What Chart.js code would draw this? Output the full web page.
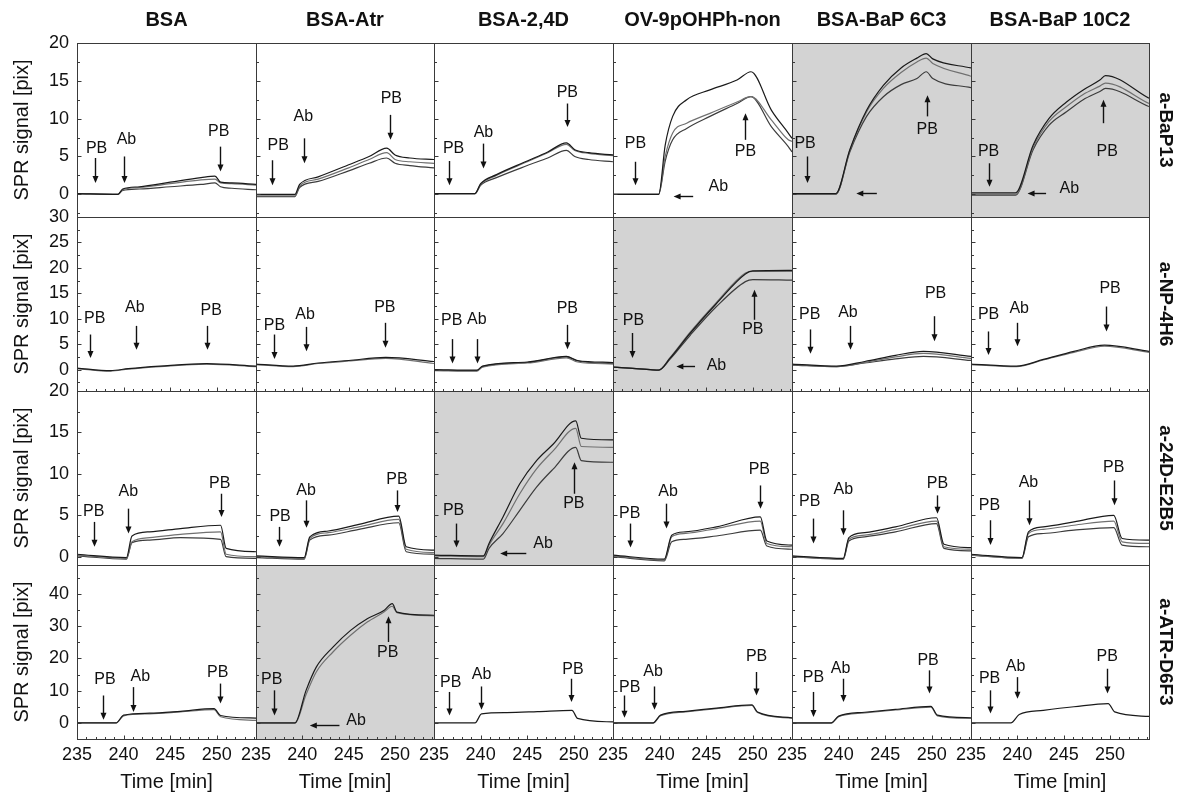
<!DOCTYPE html>
<html>
<head>
<meta charset="utf-8">
<title>SPR panels</title>
<script src="https://cdn.jsdelivr.net/npm/chart.js@4.4.1/dist/chart.umd.min.js"></script>
<style>
body { margin: 0; background: #fff; }
#fig { position: relative; width: 1185px; height: 793px; overflow: hidden; font-family: "Liberation Sans", Arial, sans-serif; color: #111; }
#fig canvas { position: absolute; }
.colTit { position: absolute; top: 7px; width: 180px; margin-left: -90px; text-align: center; font-weight: bold; font-size: 20px; line-height: 24px; white-space: nowrap; }
.rowTit { position: absolute; font-weight: bold; font-size: 19px; line-height: 20px; white-space: nowrap; transform: translate(-50%, -50%) rotate(90deg); }
</style>
</head>
<body>
<div id="fig"></div>
<script>
// titulos
var columnas = ['BSA', 'BSA-Atr', 'BSA-2,4D', 'OV-9pOHPh-non', 'BSA-BaP 6C3', 'BSA-BaP 10C2'];
var filas = ['a-BaP13', 'a-NP-4H6', 'a-24D-E2B5', 'a-ATR-D6F3'];

// ejes
var timeTicks = [235, 240, 245, 250];
var timeRange = [235, 254.2];
var yTicks = [[0, 5, 10, 15, 20], [0, 5, 10, 15, 20, 25, 30], [0, 5, 10, 15, 20], [0, 10, 20, 30, 40]];
var yRange = [[-3, 20], [-4.2, 30], [-1, 20], [-5, 49]];
var shaded = [[0, 0, 0, 0, 1, 1], [0, 0, 0, 1, 0, 0], [0, 0, 1, 0, 0, 0], [0, 1, 0, 0, 0, 0]];

// fila 1: a-BaP13
var t_r1c1 = [235, 239.4, 239.9, 241.7, 245.0, 248.3, 249.8, 250.4, 251.6, 254.2];
var y_r1c1 = [[0.1, 0.0, 0.7, 1.0, 1.6, 2.2, 2.4, 1.6, 1.5, 1.3],
              [0.1, 0.0, 0.6, 0.9, 1.4, 1.9, 2.0, 1.5, 1.4, 1.2],
              [0.1, 0.0, 0.5, 0.7, 1.0, 1.3, 1.5, 1.0, 0.8, 0.6]];
var t_r1c2 = [235, 239.2, 239.7, 241.7, 245.0, 247.2, 249.1, 250.0, 251.6, 254.2];
var y_r1c2 = [[0.0, 0.0, 1.3, 2.3, 3.9, 5.0, 6.1, 5.2, 4.8, 4.6],
              [-0.2, -0.2, 1.1, 2.0, 3.5, 4.6, 5.5, 4.6, 4.3, 4.1],
              [-0.3, -0.3, 0.9, 1.7, 3.1, 4.1, 4.8, 4.1, 3.8, 3.5]];
var t_r1c3 = [235, 239.4, 240.0, 241.7, 245.0, 247.2, 249.2, 250.1, 251.6, 254.2];
var y_r1c3 = [[0.1, 0.1, 1.4, 2.6, 4.4, 5.6, 6.8, 5.9, 5.5, 5.2],
              [0.1, 0.1, 1.3, 2.5, 4.3, 5.5, 6.6, 5.8, 5.4, 5.1],
              [0.1, 0.1, 1.2, 2.2, 3.8, 4.8, 5.8, 5.0, 4.6, 4.3]];
var t_r1c4 = [235, 239.9, 240.6, 241.4, 242.9, 245.4, 248.3, 249.8, 252.0, 253.8, 254.2];
var y_r1c4 = [[0.0, 0.0, 6.5, 10.3, 12.5, 13.8, 15.1, 16.2, 11.1, 8.1, 7.4],
              [0.0, 0.0, 5.0, 8.1, 9.4, 10.7, 12.2, 12.9, 9.8, 7.2, 7.0],
              [0.0, 0.0, 4.4, 7.2, 8.7, 10.3, 12.0, 12.9, 8.9, 6.3, 5.6]];
var t_r1c5 = [235, 239.7, 241.2, 243.0, 244.8, 246.7, 248.4, 249.4, 250.1, 254.2];
var y_r1c5 = [[0.1, 0.1, 5.9, 11.1, 14.4, 16.7, 18.0, 18.6, 17.9, 16.7],
              [0.0, 0.0, 5.8, 10.9, 14.0, 16.1, 17.5, 18.0, 17.3, 15.6],
              [0.0, 0.0, 5.6, 10.3, 12.9, 14.5, 15.3, 16.2, 15.3, 14.1]];
var t_r1c6 = [235, 239.8, 241.7, 243.4, 245.3, 247.1, 248.9, 249.5, 254.2];
var y_r1c6 = [[0.2, 0.2, 6.5, 10.0, 12.2, 13.8, 15.1, 15.7, 12.7],
              [0.0, 0.0, 6.2, 9.6, 11.6, 13.2, 14.3, 14.7, 12.0],
              [-0.1, -0.1, 5.9, 9.1, 10.9, 12.5, 13.6, 14.0, 11.6]];

// fila 2: a-NP-4H6
var t_r2c1 = [235, 238.6, 240.5, 243.9, 248.9, 254.2];
var y_r2c1 = [[0.3, -0.2, 0.2, 0.7, 1.2, 0.7],
              [0.2, -0.3, 0.1, 0.6, 1.1, 0.6]];
var t_r2c2 = [235, 239.0, 241.7, 245.0, 249.0, 254.2];
var y_r2c2 = [[1.1, 0.7, 1.3, 1.8, 2.4, 1.6],
              [1.0, 0.6, 1.2, 1.7, 2.2, 1.2]];
var t_r2c3 = [235, 239.6, 240.2, 245.0, 249.2, 250.4, 254.2];
var y_r2c3 = [[0.0, -0.1, 0.7, 1.5, 2.6, 1.8, 1.4],
              [-0.2, -0.3, 0.5, 1.3, 2.3, 1.5, 1.1],
              [-0.1, -0.2, 0.6, 1.4, 2.5, 1.7, 1.2]];
var t_r2c4 = [235, 239.0, 239.9, 241.1, 243.3, 246.1, 249.2, 250.0, 254.2];
var y_r2c4 = [[0.5, 0.0, -0.1, 2.2, 7.2, 13.0, 18.8, 19.4, 19.5],
              [0.5, 0.0, -0.1, 2.3, 7.4, 13.2, 19.0, 19.3, 19.3],
              [0.5, 0.0, -0.1, 2.0, 6.8, 12.4, 17.3, 17.7, 17.6]];
var t_r2c5 = [235, 239.8, 242.8, 246.1, 249.1, 254.2];
var y_r2c5 = [[1.1, 0.7, 1.6, 2.8, 3.6, 2.6],
              [1.0, 0.6, 1.4, 2.5, 3.2, 2.2],
              [0.9, 0.6, 1.3, 2.1, 2.6, 1.8]];
var t_r2c6 = [235, 239.9, 242.8, 246.1, 249.4, 254.2];
var y_r2c6 = [[1.1, 0.7, 2.0, 3.6, 4.8, 3.6],
              [1.0, 0.6, 1.9, 3.4, 4.6, 3.4]];

// fila 3: a-24D-E2B5
var t_r3c1 = [235, 240.3, 240.9, 242.8, 246.1, 250.4, 251.0, 254.2];
var y_r3c1 = [[0.3, -0.1, 2.5, 3.0, 3.4, 3.8, 1.0, 0.6],
              [0.2, -0.2, 1.8, 2.3, 2.7, 3.0, 0.3, 0.0],
              [0.1, -0.3, 1.7, 2.0, 2.3, 2.1, 0.0, -0.2]];
var t_r3c2 = [235, 240.2, 240.8, 242.8, 246.1, 250.4, 251.2, 254.2];
var y_r3c2 = [[0.1, -0.1, 2.4, 3.1, 3.9, 4.9, 1.2, 0.8],
              [0.0, -0.2, 2.2, 2.9, 3.6, 4.5, 0.9, 0.5],
              [-0.1, -0.3, 2.0, 2.6, 3.3, 4.1, 0.6, 0.3]];
var t_r3c3 = [235, 240.3, 240.9, 242.4, 244.2, 246.0, 247.8, 250.2, 250.8, 254.2];
var y_r3c3 = [[0.2, 0.1, 1.6, 4.8, 8.8, 11.6, 13.6, 16.4, 14.3, 14.1],
              [0.1, 0.0, 1.4, 4.0, 7.6, 10.6, 12.8, 15.5, 13.3, 13.2],
              [-0.2, -0.3, 1.0, 2.8, 5.6, 8.4, 10.6, 13.2, 11.6, 11.4]];
var t_r3c4 = [235, 240.5, 241.3, 242.8, 246.1, 250.8, 251.5, 254.2];
var y_r3c4 = [[0.2, -0.3, 2.6, 3.0, 3.6, 4.8, 1.9, 1.4],
              [0.1, -0.4, 2.4, 2.8, 3.4, 4.3, 1.6, 1.2],
              [0.0, -0.5, 1.8, 2.1, 2.5, 3.2, 1.3, 0.9]];
var t_r3c5 = [235, 240.5, 241.1, 242.8, 246.1, 250.5, 251.3, 254.2];
var y_r3c5 = [[0.1, -0.2, 2.3, 2.9, 3.6, 4.7, 1.5, 1.1],
              [0.0, -0.3, 2.1, 2.6, 3.3, 4.3, 1.2, 0.9],
              [0.0, -0.3, 1.9, 2.4, 3.0, 4.0, 1.0, 0.7]];
var t_r3c6 = [235, 240.5, 241.2, 242.8, 246.1, 250.4, 251.3, 254.2];
var y_r3c6 = [[0.3, -0.1, 3.0, 3.6, 4.2, 5.0, 2.2, 2.0],
              [0.2, -0.2, 2.8, 3.3, 3.8, 4.3, 1.8, 1.6],
              [0.2, -0.2, 2.4, 2.8, 3.2, 3.5, 1.4, 1.2]];

// fila 4: a-ATR-D6F3
var t_r4c1 = [235, 239.2, 240.0, 242.8, 246.1, 249.7, 250.4, 254.2];
var y_r4c1 = [[0.0, 0.0, 2.4, 3.0, 3.6, 4.4, 2.3, 1.5],
              [0.0, 0.0, 2.2, 2.8, 3.4, 4.1, 1.9, 0.8]];
var t_r4c2 = [235, 239.2, 240.4, 241.5, 243.3, 245.2, 247.0, 248.8, 249.7, 250.2, 254.2];
var y_r4c2 = [[0.0, 0.0, 10.1, 17.3, 23.5, 28.7, 32.3, 34.9, 37.0, 34.4, 33.4],
              [-0.1, -0.1, 8.8, 15.8, 22.0, 27.2, 31.3, 34.4, 36.2, 34.2, 33.2]];
var t_r4c3 = [235, 239.4, 240.1, 242.8, 246.1, 249.8, 250.4, 254.2];
var y_r4c3 = [[0.0, 0.0, 2.8, 3.2, 3.5, 3.9, 1.4, 0.3]];
var t_r4c4 = [235, 239.3, 240.1, 242.8, 246.1, 249.9, 250.5, 254.2];
var y_r4c4 = [[0.0, 0.0, 2.4, 3.6, 4.6, 5.6, 3.4, 1.6],
              [-0.1, -0.1, 2.2, 3.4, 4.4, 5.4, 3.2, 1.4]];
var t_r4c5 = [235, 239.2, 240.0, 242.8, 246.1, 249.9, 250.6, 254.2];
var y_r4c5 = [[0.0, 0.0, 2.1, 3.3, 4.2, 5.1, 2.4, 1.6],
              [-0.1, -0.1, 1.9, 3.1, 4.0, 4.9, 2.2, 1.4]];
var t_r4c6 = [235, 239.3, 240.2, 242.8, 246.1, 249.8, 250.5, 254.2];
var y_r4c6 = [[0.0, 0.0, 2.6, 3.9, 5.0, 6.0, 3.4, 2.0]];

// marcas PB / Ab: ['v', texto, xTexto, yTexto, xFlecha, yDesde, yHasta] o ['h', texto, xTexto, yTexto, yFlecha, xDesde, xHasta]
var n_r1c1 = [['v', 'PB', 237.1, 6.1, 236.9, 4.8, 1.5], ['v', 'Ab', 240.3, 7.2, 240.0, 5.0, 1.5], ['v', 'PB', 250.2, 8.3, 250.3, 6.3, 3.0]];
var n_r1c2 = [['v', 'PB', 237.4, 6.5, 236.7, 4.5, 1.2], ['v', 'Ab', 240.1, 10.3, 240.2, 7.4, 4.1], ['v', 'PB', 249.6, 12.7, 249.4, 10.5, 7.2]];
var n_r1c3 = [['v', 'PB', 237.1, 6.1, 236.6, 4.4, 1.2], ['v', 'Ab', 240.3, 8.1, 240.3, 6.7, 3.4], ['v', 'PB', 249.3, 13.4, 249.3, 12.0, 8.9]];
var n_r1c4 = [['v', 'PB', 237.4, 6.7, 237.4, 4.3, 1.2], ['h', 'Ab', 246.3, 1.0, -0.2, 243.6, 241.5], ['v', 'PB', 249.2, 5.6, 249.2, 7.2, 10.7]];
var n_r1c5 = [['v', 'PB', 236.4, 6.7, 236.6, 5.0, 1.5], ['h', '', 0, 0, 0.2, 244.1, 241.9], ['v', 'PB', 249.5, 8.5, 249.5, 10.3, 13.1]];
var n_r1c6 = [['v', 'PB', 236.9, 5.6, 236.9, 4.1, 1.0], ['h', 'Ab', 245.6, 0.8, 0.2, 243.1, 241.1], ['v', 'PB', 249.7, 5.6, 249.2, 9.4, 12.5]];
var n_r2c1 = [['v', 'PB', 236.9, 10.0, 236.4, 6.9, 2.3], ['v', 'Ab', 241.2, 12.1, 241.3, 8.6, 3.9], ['v', 'PB', 249.4, 11.6, 248.9, 8.6, 3.9]];
var n_r2c2 = [['v', 'PB', 237.0, 8.6, 236.9, 6.9, 2.1], ['v', 'Ab', 240.3, 10.9, 240.4, 8.4, 3.6], ['v', 'PB', 248.9, 12.1, 248.9, 9.2, 4.3]];
var n_r2c3 = [['v', 'PB', 236.9, 9.6, 236.9, 6.0, 1.2], ['v', 'Ab', 239.6, 9.8, 239.6, 6.0, 1.2], ['v', 'PB', 249.3, 12.0, 249.3, 8.8, 4.0]];
var n_r2c4 = [['v', 'PB', 237.2, 9.7, 237.0, 7.2, 2.3], ['h', 'Ab', 246.1, 0.85, 0.8, 243.8, 241.8], ['v', 'PB', 250.0, 7.9, 250.1, 9.8, 15.7]];
var n_r2c5 = [['v', 'PB', 236.9, 10.8, 236.9, 7.9, 3.1], ['v', 'Ab', 241.0, 11.3, 241.2, 8.6, 3.9], ['v', 'PB', 250.4, 14.9, 250.2, 10.5, 5.6]];
var n_r2c6 = [['v', 'PB', 236.9, 10.8, 236.8, 7.5, 2.9], ['v', 'Ab', 240.2, 11.9, 240.0, 9.2, 4.6], ['v', 'PB', 250.0, 16.0, 249.6, 12.4, 7.5]];
var n_r3c1 = [['v', 'PB', 236.8, 5.4, 236.8, 4.2, 1.2], ['v', 'Ab', 240.5, 7.8, 240.5, 5.8, 2.8], ['v', 'PB', 250.3, 8.8, 250.4, 7.6, 4.8]];
var n_r3c2 = [['v', 'PB', 237.6, 4.8, 237.5, 3.6, 1.2], ['v', 'Ab', 240.4, 8.0, 240.4, 6.8, 3.5], ['v', 'PB', 250.2, 9.3, 250.2, 8.0, 5.4]];
var n_r3c3 = [['v', 'PB', 237.1, 5.6, 237.4, 4.0, 1.1], ['h', 'Ab', 246.7, 1.6, 0.4, 244.9, 242.1], ['v', 'PB', 250.0, 6.4, 250.0, 7.6, 11.4]];
var n_r3c4 = [['v', 'PB', 236.8, 5.2, 236.8, 4.0, 1.1], ['v', 'Ab', 240.9, 7.9, 240.7, 6.4, 3.4], ['v', 'PB', 250.7, 10.5, 250.8, 8.6, 5.8]];
var n_r3c5 = [['v', 'PB', 236.9, 6.6, 237.3, 4.6, 1.6], ['v', 'Ab', 240.5, 8.1, 240.5, 5.6, 2.6], ['v', 'PB', 250.6, 8.8, 250.6, 7.4, 5.2]];
var n_r3c6 = [['v', 'PB', 237.0, 6.2, 237.0, 4.4, 1.4], ['v', 'Ab', 241.2, 9.0, 241.3, 6.8, 3.8], ['v', 'PB', 250.4, 10.8, 250.4, 9.2, 6.2]];
var n_r4c1 = [['v', 'PB', 238.0, 13.4, 237.8, 8.5, 1.0], ['v', 'Ab', 241.8, 14.4, 241.0, 11.1, 3.4], ['v', 'PB', 250.1, 15.5, 250.3, 12.2, 6.0]];
var n_r4c2 = [['v', 'PB', 236.7, 13.4, 236.9, 10.1, 2.3], ['h', 'Ab', 245.8, 0.8, -0.5, 244.0, 240.8], ['v', 'PB', 249.2, 21.7, 249.2, 25.1, 33.1]];
var n_r4c3 = [['v', 'PB', 236.8, 12.4, 236.6, 9.6, 2.3], ['v', 'Ab', 240.1, 15.0, 240.0, 11.3, 4.1], ['v', 'PB', 249.9, 16.5, 249.7, 13.7, 6.5]];
var n_r4c4 = [['v', 'PB', 236.8, 10.9, 236.2, 8.5, 1.6], ['v', 'Ab', 239.3, 15.8, 239.4, 11.3, 4.1], ['v', 'PB', 250.4, 20.7, 250.3, 15.8, 8.5]];
var n_r4c5 = [['v', 'PB', 237.3, 14.2, 237.2, 9.6, 1.8], ['v', 'Ab', 240.2, 16.8, 240.5, 13.7, 6.5], ['v', 'PB', 249.6, 19.2, 249.7, 16.3, 9.1]];
var n_r4c6 = [['v', 'PB', 237.0, 13.7, 237.0, 10.1, 2.9], ['v', 'Ab', 239.8, 17.5, 240.0, 14.2, 7.5], ['v', 'PB', 249.7, 20.7, 249.7, 16.8, 9.1]];

var tiempos = [[t_r1c1, t_r1c2, t_r1c3, t_r1c4, t_r1c5, t_r1c6],
               [t_r2c1, t_r2c2, t_r2c3, t_r2c4, t_r2c5, t_r2c6],
               [t_r3c1, t_r3c2, t_r3c3, t_r3c4, t_r3c5, t_r3c6],
               [t_r4c1, t_r4c2, t_r4c3, t_r4c4, t_r4c5, t_r4c6]];
var senales = [[y_r1c1, y_r1c2, y_r1c3, y_r1c4, y_r1c5, y_r1c6],
               [y_r2c1, y_r2c2, y_r2c3, y_r2c4, y_r2c5, y_r2c6],
               [y_r3c1, y_r3c2, y_r3c3, y_r3c4, y_r3c5, y_r3c6],
               [y_r4c1, y_r4c2, y_r4c3, y_r4c4, y_r4c5, y_r4c6]];
var notas = [[n_r1c1, n_r1c2, n_r1c3, n_r1c4, n_r1c5, n_r1c6],
             [n_r2c1, n_r2c2, n_r2c3, n_r2c4, n_r2c5, n_r2c6],
             [n_r3c1, n_r3c2, n_r3c3, n_r3c4, n_r3c5, n_r3c6],
             [n_r4c1, n_r4c2, n_r4c3, n_r4c4, n_r4c5, n_r4c6]];

window.onload = function () {

    var fuente = "'Liberation Sans', Arial, sans-serif";
    var colores = ['#1a1a1a', '#707070', '#3c3c3c'];
    var fig = document.getElementById('fig');
    var X0 = 77, PW = 178.7, Y0 = 43, PH = 174;

    function borde(c) { return Math.round(X0 + c * PW); }

    function flecha(ctx, x1, y1, x2, y2) {
        var ang = Math.atan2(y2 - y1, x2 - x1);
        var L = 7, W = 3;
        ctx.beginPath();
        ctx.moveTo(x1, y1);
        ctx.lineTo(x2 - L * 0.8 * Math.cos(ang), y2 - L * 0.8 * Math.sin(ang));
        ctx.stroke();
        ctx.beginPath();
        ctx.moveTo(x2, y2);
        ctx.lineTo(x2 - L * Math.cos(ang) + W * Math.sin(ang), y2 - L * Math.sin(ang) - W * Math.cos(ang));
        ctx.lineTo(x2 - L * Math.cos(ang) - W * Math.sin(ang), y2 - L * Math.sin(ang) + W * Math.cos(ang));
        ctx.closePath();
        ctx.fill();
    }

    function panelPlugin(r, c) {
        return {
            id: 'panel' + r + c,
            beforeDraw: function (chart) {
                if (!shaded[r][c]) return;
                var a = chart.chartArea, ctx = chart.ctx;
                ctx.save();
                ctx.fillStyle = '#d3d3d3';
                ctx.fillRect(a.left, a.top, a.right - a.left, a.bottom - a.top);
                ctx.restore();
            },
            afterDatasetsDraw: function (chart) {
                var a = chart.chartArea, ctx = chart.ctx;
                var sx = chart.scales.x, sy = chart.scales.y;
                ctx.save();
                // marco
                ctx.strokeStyle = '#3a3a3a';
                ctx.lineWidth = 1;
                var L = Math.round(a.left) + 0.5, T = Math.round(a.top) + 0.5;
                var R = Math.round(a.right) + 0.5, B = Math.round(a.bottom) + 0.5;
                ctx.strokeRect(L, T, R - L, B - T);
                // marcas del eje y (hacia dentro)
                var paso = yTicks[r][1] - yTicks[r][0];
                var menor = paso / 2;
                ctx.beginPath();
                for (var v = Math.ceil(yRange[r][0] / menor) * menor; v < yRange[r][1]; v += menor) {
                    var py = Math.round(sy.getPixelForValue(v)) + 0.5;
                    var len = (Math.abs(v / paso - Math.round(v / paso)) < 1e-6) ? 4 : 2.5;
                    ctx.moveTo(L, py);
                    ctx.lineTo(L + len, py);
                }
                // marcas del eje x en filas 2 y 4
                if (r == 1 || r == 3) {
                    for (var t = 236; t < timeRange[1]; t += 1) {
                        var px = Math.round(sx.getPixelForValue(t)) + 0.5;
                        var lt = (t % 5 == 0) ? 4 : 2.5;
                        ctx.moveTo(px, B);
                        ctx.lineTo(px, B - lt);
                    }
                }
                ctx.stroke();
                // PB / Ab
                ctx.fillStyle = '#111';
                ctx.strokeStyle = '#111';
                ctx.lineWidth = 1.4;
                ctx.font = '16px ' + fuente;
                ctx.textAlign = 'center';
                ctx.textBaseline = 'middle';
                notas[r][c].forEach(function (n) {
                    if (n[1] !== '') {
                        ctx.fillText(n[1], sx.getPixelForValue(n[2]), sy.getPixelForValue(n[3]));
                    }
                    if (n[0] == 'v') {
                        var x = Math.round(sx.getPixelForValue(n[4])) + 0.5;
                        flecha(ctx, x, sy.getPixelForValue(n[5]), x, sy.getPixelForValue(n[6]));
                    } else {
                        var y = Math.round(sy.getPixelForValue(n[4])) + 0.5;
                        flecha(ctx, sx.getPixelForValue(n[5]), y, sx.getPixelForValue(n[6]), y);
                    }
                });
                ctx.restore();
            }
        };
    }

    function crearPanel(r, c) {
        var padL = c == 0 ? 77 : 20;
        var padR = 20;
        var padT = 22;
        var padB = r == 3 ? 55 : 22;
        var x0 = borde(c), x1 = borde(c + 1);
        var y0 = Y0 + r * PH;
        var canvas = document.createElement('canvas');
        canvas.width = (x1 - x0) + padL + padR;
        canvas.height = PH + padT + padB;
        canvas.style.left = (x0 - padL) + 'px';
        canvas.style.top = (y0 - padT) + 'px';
        fig.appendChild(canvas);

        var t = tiempos[r][c];
        var datasets = senales[r][c].map(function (serie, i) {
            return {
                data: serie.map(function (v, k) { return { x: t[k], y: v }; }),
                borderColor: colores[i % colores.length],
                borderWidth: 1.2,
                pointRadius: 0,
                fill: false,
                cubicInterpolationMode: 'monotone'
            };
        });

        var verX = (r == 3), verY = (c == 0);
        var config = {
            type: 'line',
            data: { datasets: datasets },
            options: {
                responsive: false,
                animation: false,
                events: [],
                layout: { padding: { left: verY ? 0 : padL, right: padR, top: padT, bottom: verX ? 0 : padB } },
                plugins: { legend: { display: false }, tooltip: { enabled: false } },
                scales: {
                    x: {
                        type: 'linear',
                        min: timeRange[0],
                        max: timeRange[1],
                        display: verX,
                        grid: { display: false, drawTicks: false },
                        border: { display: false },
                        ticks: { font: { size: 18, family: fuente }, color: '#111', padding: 5, maxRotation: 0 },
                        afterBuildTicks: function (s) { s.ticks = timeTicks.map(function (v) { return { value: v }; }); },
                        afterFit: function (s) { if (verX) s.height = 55; },
                        title: { display: true, text: 'Time [min]', color: '#111', font: { size: 20, family: fuente }, padding: { top: 0, bottom: 0 } }
                    },
                    y: {
                        type: 'linear',
                        min: yRange[r][0],
                        max: yRange[r][1],
                        display: verY,
                        grid: { display: false, drawTicks: false },
                        border: { display: false },
                        ticks: { font: { size: 18, family: fuente }, color: '#111', padding: 8 },
                        afterBuildTicks: function (s) { s.ticks = yTicks[r].map(function (v) { return { value: v }; }); },
                        afterFit: function (s) { if (verY) s.width = 77; },
                        title: { display: true, text: 'SPR signal [pix]', color: '#111', font: { size: 20, family: fuente }, padding: { top: 10, bottom: 0 } }
                    }
                }
            },
            plugins: [panelPlugin(r, c)]
        };
        new Chart(canvas, config);
    }

    for (var r = 0; r < filas.length; r++) {
        for (var c = 0; c < columnas.length; c++) {
            crearPanel(r, c);
        }
    }

    // titulos de columnas y filas
    columnas.forEach(function (nombre, c) {
        var d = document.createElement('div');
        d.className = 'colTit';
        d.style.left = ((borde(c) + borde(c + 1)) / 2) + 'px';
        d.textContent = nombre;
        fig.appendChild(d);
    });
    filas.forEach(function (nombre, r) {
        var d = document.createElement('div');
        d.className = 'rowTit';
        d.style.left = '1166px';
        d.style.top = (Y0 + r * PH + PH / 2) + 'px';
        d.textContent = nombre;
        fig.appendChild(d);
    });
};
</script>
</body>
</html>
